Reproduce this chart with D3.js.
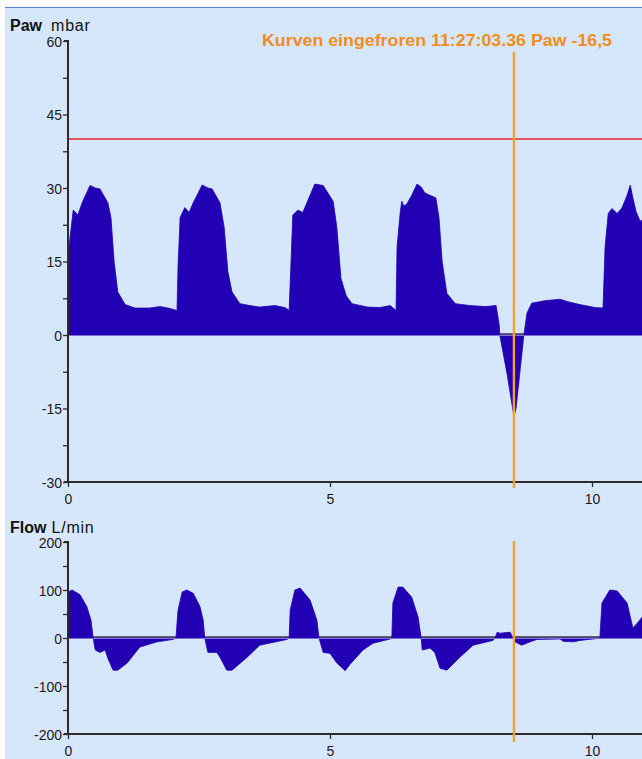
<!DOCTYPE html>
<html>
<head>
<meta charset="utf-8">
<script src="https://cdn.jsdelivr.net/npm/d3@7"></script>
<style>
  body { margin: 0; background: #fff; }
  svg { display: block; }
  text { font-family: "Liberation Sans", Arial, sans-serif; }
</style>
</head>
<body>
<div id="chart"></div>
<script>
// Paw waveform, [time s, mbar]
const pawData = [
    [0.00, 16], [0.04, 20], [0.10, 25.5], [0.19, 24.5], [0.27, 27], [0.42, 30.5], [0.52, 30],
    [0.61, 29.8], [0.76, 27], [0.82, 24], [0.88, 15], [0.95, 8.8], [1.09, 6.2], [1.28, 5.5],
    [1.56, 5.5], [1.76, 5.8], [1.95, 5.4], [2.08, 5],
    [2.10, 14], [2.14, 24], [2.23, 26], [2.31, 25], [2.39, 27], [2.56, 30.6], [2.67, 30],
    [2.75, 29.8], [2.90, 27], [2.98, 22], [3.05, 13], [3.13, 8.8], [3.28, 6.4], [3.47, 6],
    [3.66, 5.7], [3.95, 6], [4.14, 5.6], [4.22, 5],
    [4.26, 16], [4.29, 24.5], [4.39, 25.5], [4.48, 25], [4.58, 27.5], [4.71, 30.8], [4.87, 30.5],
    [5.06, 27.3], [5.13, 22], [5.21, 11.5], [5.31, 8], [5.42, 6.4], [5.71, 5.7], [5.95, 5.6],
    [6.15, 6], [6.26, 5],
    [6.28, 18], [6.34, 25], [6.37, 27.3], [6.41, 26.3], [6.47, 26.8], [6.56, 28.5], [6.66, 30.8],
    [6.74, 30.2], [6.81, 29], [6.91, 28.5], [7.02, 28], [7.08, 24], [7.14, 15], [7.23, 8.5],
    [7.39, 6.4], [7.67, 6], [7.96, 5.8], [8.17, 6],
    [8.23, 2], [8.24, 0], [8.38, -8], [8.51, -16.6], [8.55, -15], [8.65, -5], [8.70, 0],
    [8.76, 4.5], [8.85, 6.5], [9.10, 7], [9.39, 7.3], [9.54, 6.8], [9.77, 6.2], [10.06, 5.6],
    [10.21, 5.5],
    [10.25, 18], [10.31, 24.8], [10.38, 25.8], [10.48, 24.8], [10.57, 25.9], [10.67, 28.5],
    [10.73, 30.6], [10.78, 28], [10.84, 25.2], [10.92, 23.2], [10.96, 23.5]
];

// Flow waveform, [time s, L/min]
const flowData = [
    [0.00, 96], [0.08, 100], [0.23, 90], [0.36, 65], [0.44, 37], [0.48, 0], [0.52, -25],
    [0.61, -30], [0.71, -25], [0.76, -42], [0.86, -67], [0.95, -67], [1.13, -52], [1.37, -19],
    [1.70, -8], [2.00, -3], [2.06, 0],
    [2.10, 58], [2.18, 96], [2.27, 100], [2.39, 93], [2.52, 65], [2.58, 37], [2.61, 0],
    [2.67, -30], [2.84, -30], [2.90, -40], [3.03, -67], [3.13, -67], [3.42, -40], [3.66, -15],
    [4.18, -3], [4.22, 0],
    [4.24, 58], [4.33, 100], [4.43, 104], [4.62, 79], [4.75, 37], [4.79, 0], [4.87, -30],
    [5.00, -32], [5.13, -52], [5.29, -68], [5.38, -55], [5.63, -25], [5.82, -11], [6.15, -2],
    [6.18, 0],
    [6.20, 73], [6.30, 106], [6.39, 106], [6.56, 85], [6.68, 44], [6.74, 0], [6.76, -25],
    [6.91, -21], [7.00, -30], [7.10, -63], [7.23, -67], [7.48, -40], [7.73, -15], [8.11, -5],
    [8.15, 0],
    [8.19, 12], [8.24, 10], [8.44, 12], [8.49, 0], [8.53, -8], [8.66, -15], [8.82, -8],
    [8.95, -3], [9.39, -2], [9.45, -7], [9.64, -8], [9.77, -5], [10.11, -1], [10.15, 0],
    [10.19, 73], [10.34, 100], [10.48, 98], [10.67, 73], [10.78, 21], [10.88, 33], [10.96, 44]
];

const timeTicks = [0, 5, 10];
const pawTicks = [-30, -22.5, -15, -7.5, 0, 7.5, 15, 22.5, 30, 37.5, 45, 52.5, 60];
const pawLabels = [-30, -15, 0, 15, 30, 45, 60];
const flowTicks = [-200, -150, -100, -50, 0, 50, 100, 150, 200];
const flowLabels = [-200, -100, 0, 100, 200];
const pawAlarm = 40;
const cursorTime = 8.51;
const frozenText = "Kurven eingefroren 11:27:03.36 Paw -16,5";

var state = {
    width: 642,
    height: 759,
    bgColor: '#d6e7fb',
    fillColor: '#2200b4',
    axisColor: '#2b2b2b',
    cursorColor: '#f6a030',
    textOrange: '#f28c1c',
    alarmColor: '#e52424'
};

let svg = d3.select('#chart')
    .append('svg')
        .attr('width', state.width)
        .attr('height', state.height);

svg.append('rect')
    .attr('x', 5).attr('y', 7)
    .attr('width', state.width - 5).attr('height', state.height - 7)
    .attr('fill', state.bgColor);

svg.append('line')
    .attr('x1', 5).attr('x2', state.width)
    .attr('y1', 7.5).attr('y2', 7.5)
    .attr('stroke', '#5b7fd8')
    .attr('stroke-width', 1);

let x = d3.scaleLinear().domain([0, 10]).range([68, 592]);

svg.append('defs').append('clipPath')
    .attr('id', 'plotClip')
    .append('rect')
        .attr('x', 68).attr('y', 0)
        .attr('width', state.width - 68).attr('height', state.height);

/**
Draws one waveform panel: zero line, filled curve, axes and titles.
*/
function drawPanel(opts){
    let y = d3.scaleLinear().domain(opts.domain).range(opts.range);
    let g = svg.append('g');

    // dark zero line, visible where the curve is at or below zero
    g.append('line')
        .attr('x1', 68).attr('x2', state.width)
        .attr('y1', y(0) - 1).attr('y2', y(0) - 1)
        .attr('stroke', '#3a3a3a')
        .attr('stroke-width', 1.6);

    let area = d3.area()
        .x((d) => x(d[0]))
        .y0(y(0))
        .y1((d) => y(d[1]))
        .curve(d3.curveLinear);

    g.append('path')
        .datum(opts.data)
        .attr('clip-path', 'url(#plotClip)')
        .attr('d', area)
        .attr('fill', state.fillColor)
        .attr('stroke', state.fillColor)
        .attr('stroke-width', 0.8)
        .attr('stroke-linejoin', 'round');

    g.append('line')
        .attr('x1', 68).attr('x2', state.width)
        .attr('y1', y(0) + 0.5).attr('y2', y(0) + 0.5)
        .attr('stroke', '#7c6fd6')
        .attr('stroke-width', 1);

    if(opts.alarm !== undefined){
        g.append('line')
            .attr('x1', 69).attr('x2', state.width)
            .attr('y1', y(opts.alarm)).attr('y2', y(opts.alarm))
            .attr('stroke', state.alarmColor)
            .attr('stroke-width', 1.6);
    }

    // y axis
    let yAxis = d3.axisLeft(y)
        .tickValues(opts.ticks)
        .tickSize(5)
        .tickPadding(1)
        .tickFormat((d) => opts.labels.indexOf(d) >= 0 ? d : '');
    let ya = g.append('g')
        .attr('transform', 'translate(68,0)')
        .call(yAxis);
    ya.select('.domain')
        .attr('d', 'M-4,' + y(opts.domain[1]) + 'H0V' + y(opts.domain[0]) + 'H-4');

    // x axis
    let xAxis = d3.axisBottom(x)
        .tickValues(timeTicks)
        .tickSize(5)
        .tickPadding(7);
    let xa = g.append('g')
        .attr('transform', 'translate(0,' + y(opts.domain[0]) + ')')
        .call(xAxis);
    xa.select('.domain')
        .attr('d', 'M66,0H' + state.width);

    [ya, xa].forEach((a) => {
        a.selectAll('.domain').attr('stroke', state.axisColor).attr('stroke-width', 2).attr('fill', 'none');
        a.selectAll('.tick line').attr('stroke', state.axisColor).attr('stroke-width', 1.3);
        a.selectAll('.tick text')
            .attr('fill', '#1a1a1a')
            .style('font-size', '14px');
    });
    ya.selectAll('.tick text').attr('dy', '0.36em');

    let title = g.append('text')
        .attr('x', 10)
        .attr('y', opts.titleY)
        .style('font-size', '16px')
        .attr('fill', '#111');
    title.append('tspan').style('font-weight', 'bold').text(opts.title);
    title.append('tspan').attr('dx', opts.unitGap).style('letter-spacing', '0.8px').text(opts.unit);

    // frozen cursor
    g.append('line')
        .attr('x1', x(cursorTime)).attr('x2', x(cursorTime))
        .attr('y1', opts.cursor[0]).attr('y2', opts.cursor[1])
        .attr('stroke', state.cursorColor)
        .attr('stroke-width', 2.4);
    return y;
}

drawPanel({
    data: pawData,
    domain: [-30, 60],
    range: [482, 41],
    ticks: pawTicks,
    labels: pawLabels,
    alarm: pawAlarm,
    title: 'Paw',
    unit: 'mbar',
    unitGap: 9,
    titleY: 31,
    cursor: [52, 488]
});

drawPanel({
    data: flowData,
    domain: [-200, 200],
    range: [734, 542],
    ticks: flowTicks,
    labels: flowLabels,
    title: 'Flow',
    unit: 'L/min',
    unitGap: 5,
    titleY: 533,
    cursor: [541, 742]
});

svg.append('text')
    .attr('x', 262)
    .attr('y', 46)
    .attr('fill', state.textOrange)
    .attr('textLength', 350)
    .attr('lengthAdjust', 'spacingAndGlyphs')
    .style('font-size', '16px')
    .style('font-weight', 'bold')
    .text(frozenText);
</script>
</body>
</html>
